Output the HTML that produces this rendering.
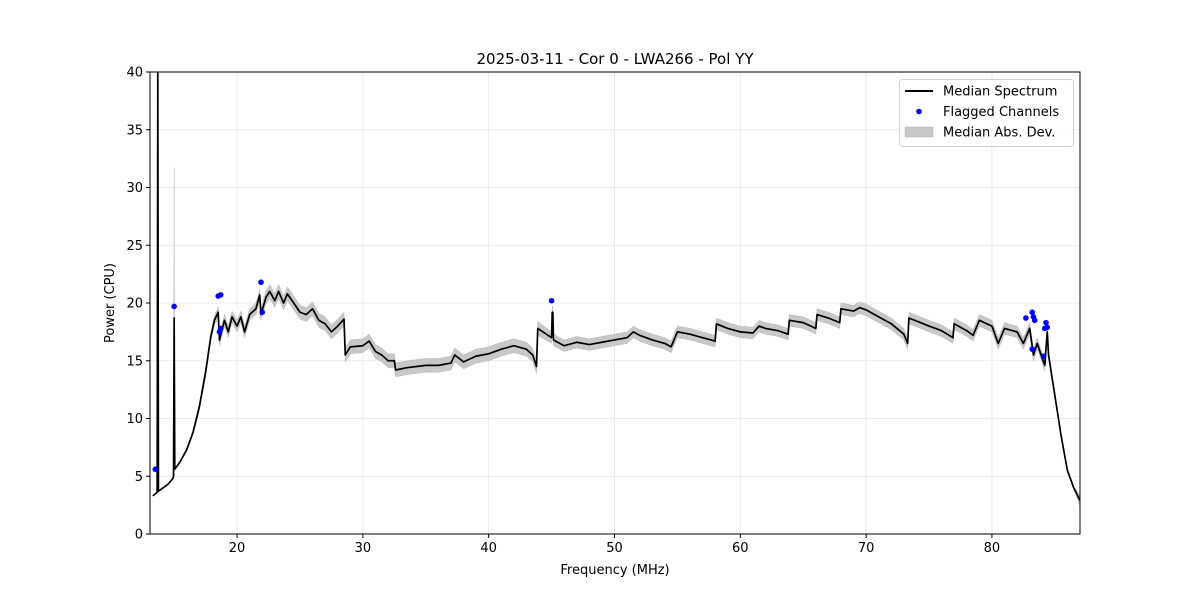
<!DOCTYPE html>
<html><head><meta charset="utf-8"><style>
body{margin:0;background:#fff;font-family:"Liberation Sans","DejaVu Sans",sans-serif;}
text{font-family:"DejaVu Sans","Liberation Sans",sans-serif;}
</style></head><body>
<svg id="chart" width="1200" height="600" xmlns="http://www.w3.org/2000/svg"></svg>
<script>
const freqs=[13.3,13.65,13.7,13.75,14,14.5,14.9,14.95,15.0,15.05,15.5,16,16.5,17,17.5,17.9,18.2,18.5,18.6,19,19.3,19.6,20,20.3,20.6,21,21.5,21.8,21.9,22.3,22.6,23,23.3,23.7,24,24.5,25,25.5,26,26.5,27,27.5,28,28.5,28.6,29,30,30.5,31,31.5,32,32.5,32.6,33.5,35,36,37,37.3,38,39,40,41,42,43,43.5,43.8,43.9,45,45.05,45.1,45.15,46,47,48,49,50,51,51.5,52,53,54,54.5,55,56,57,58,58.1,59,60,61,61.5,62,63,63.8,63.9,65,66,66.1,67,67.9,68,69,69.5,70,71,72,73,73.3,73.4,75,76,76.9,77,78,78.5,79,80,80.5,81,82,82.5,83,83.3,83.6,84,84.2,84.4,84.5,85,85.5,86,86.5,87];
const power=[3.3,3.6,40,3.7,3.9,4.3,4.8,5.0,18.7,5.6,6.3,7.3,8.8,11,14,17,18.5,19.2,16.8,18.5,17.5,18.8,18,18.8,17.5,19,19.5,20.7,19,20.5,21,20.2,21,20,20.8,20,19.2,19,19.5,18.5,18.2,17.5,18,18.6,15.5,16.2,16.3,16.7,15.8,15.5,15,15,14.2,14.4,14.6,14.6,14.8,15.5,14.9,15.4,15.6,16,16.3,16,15.5,14.5,17.8,17,19.2,19.2,16.8,16.3,16.6,16.4,16.6,16.8,17,17.5,17.2,16.8,16.5,16.2,17.5,17.3,17,16.7,18.2,17.8,17.5,17.4,18,17.8,17.6,17.3,18.5,18.3,17.8,19,18.7,18.3,19.5,19.3,19.6,19.4,18.8,18.2,17.3,16.5,18.7,18,17.6,17,18.2,17.6,17.2,18.5,18,16.5,17.8,17.5,16.5,17.8,15.5,16.5,15.2,14.6,17.5,15.5,12,8.5,5.5,4,2.9];
const madWidth=[0,0,0,0,0,0,0,0,13,0,0.1,0.1,0.2,0.3,0.4,0.4,0.4,0.5,0.5,0.5,0.5,0.5,0.5,0.5,0.5,0.5,0.5,0.5,0.5,0.6,0.6,0.6,0.6,0.6,0.6,0.6,0.6,0.6,0.6,0.6,0.6,0.6,0.6,0.6,0.6,0.6,0.6,0.6,0.6,0.6,0.6,0.6,0.6,0.6,0.6,0.6,0.6,0.6,0.6,0.6,0.6,0.6,0.6,0.6,0.6,0.6,0.6,0.5,0.5,0.5,0.5,0.5,0.5,0.5,0.5,0.5,0.5,0.5,0.5,0.5,0.5,0.5,0.5,0.5,0.5,0.5,0.5,0.5,0.5,0.5,0.5,0.5,0.5,0.5,0.5,0.5,0.5,0.5,0.5,0.5,0.5,0.5,0.5,0.5,0.5,0.5,0.5,0.5,0.5,0.5,0.5,0.5,0.5,0.5,0.5,0.5,0.5,0.5,0.5,0.5,0.5,0.5,0.5,0.5,0.4,0.5,0.4,0.3,0.2,0.1,0.1,0.1];
const flagFreqs=[13.5,15,18.5,18.7,18.6,18.7,21.9,22,45,82.7,83.2,83.3,83.4,83.2,84.1,84.3,84.4,84.2];
const flagPower=[5.6,19.7,20.6,20.7,17.5,17.8,21.8,19.2,20.2,18.7,19.2,18.8,18.5,16,15.4,18.3,17.9,17.8];
const xTicks=[20,30,40,50,60,70,80];
const yTicks=[0,5,10,15,20,25,30,35,40];

const NS="http://www.w3.org/2000/svg";
const svg=document.getElementById('chart');
const L=150,R=1080,T=72,B=534,X0=13.08,X1=87.0,Y0=0,Y1=40;
const sx=v=>L+(v-X0)/(X1-X0)*(R-L);
const sy=v=>B-(v-Y0)/(Y1-Y0)*(B-T);
const mw=i=>(madWidth[i]===undefined?0.5:madWidth[i]);
function mk(tag,attrs,parent){const e=document.createElementNS(NS,tag);for(const k in attrs)e.setAttribute(k,attrs[k]);(parent||svg).appendChild(e);return e;}

const defs=mk('defs',{});const cp=mk('clipPath',{id:'clip'},defs);mk('rect',{x:L,y:T,width:R-L,height:B-T},cp);

const grid=mk('g',{});


xTicks.forEach(t=>{mk('line',{x1:sx(t),x2:sx(t),y1:T,y2:B,stroke:'#e6e6e6','stroke-width':0.8},grid);});
yTicks.forEach(t=>{mk('line',{x1:L,x2:R,y1:sy(t),y2:sy(t),stroke:'#e6e6e6','stroke-width':0.8},grid);});

const plot=mk('g',{'clip-path':'url(#clip)'});
let up=freqs.map((f,i)=>sx(f)+','+sy(power[i]+mw(i))).join(' ');
let dn=freqs.map((f,i)=>sx(f)+','+sy(power[i]-mw(i))).reverse().join(' ');
const band=mk('polygon',{points:up+' '+dn,fill:'#c8c8c8',stroke:'#b8b8b8','stroke-width':0.5},plot);


const line=mk('polyline',{points:freqs.map((f,i)=>sx(f)+','+sy(power[i])).join(' '),fill:'none',stroke:'#000','stroke-width':1.7,'stroke-linejoin':'round'},plot);


flagFreqs.forEach((f,i)=>{
  const c=mk('circle',{cx:sx(f),cy:sy(flagPower[i]),r:2.8,fill:'#0000ff'},plot);
  
  
});

mk('rect',{x:L,y:T,width:R-L,height:B-T,fill:'none',stroke:'#000','stroke-width':1});

xTicks.forEach(t=>{
  mk('line',{x1:sx(t),x2:sx(t),y1:B,y2:B+4,stroke:'#000'});
  const tx=mk('text',{x:sx(t),y:B+18,'text-anchor':'middle','font-size':13});
  tx.textContent=t;
  
  
});
yTicks.forEach(t=>{
  mk('line',{x1:L-4,x2:L,y1:sy(t),y2:sy(t),stroke:'#000'});
  const tx=mk('text',{x:L-7,y:sy(t)+4.5,'text-anchor':'end','font-size':13});
  tx.textContent=t;
  
  
});
</script>
<svg width="1200" height="600" style="position:absolute;left:0;top:0" xmlns="http://www.w3.org/2000/svg">
<text x="615" y="64" text-anchor="middle" font-size="15">2025-03-11 - Cor 0 - LWA266 - Pol YY</text>
<text x="615" y="574" text-anchor="middle" font-size="13">Frequency (MHz)</text>
<text x="114" y="303" text-anchor="middle" font-size="13" transform="rotate(-90 114 303)">Power (CPU)</text>
<g>
<rect x="899.5" y="79.5" width="174" height="67" rx="3" fill="#fff" fill-opacity="0.85" stroke="#d0d0d0"/>
<line x1="905" x2="933" y1="91" y2="91" stroke="#000" stroke-width="2"/>
<text x="943" y="95.5" font-size="13">Median Spectrum</text>
<circle cx="919" cy="111.5" r="2.8" fill="#0000ff"/>
<text x="943" y="116" font-size="13">Flagged Channels</text>
<rect x="905" y="127" width="28" height="10" fill="#c8c8c8" stroke="#b8b8b8" stroke-width="0.5"/>
<text x="943" y="136.5" font-size="13">Median Abs. Dev.</text>
</g>
</svg>
</body></html>
